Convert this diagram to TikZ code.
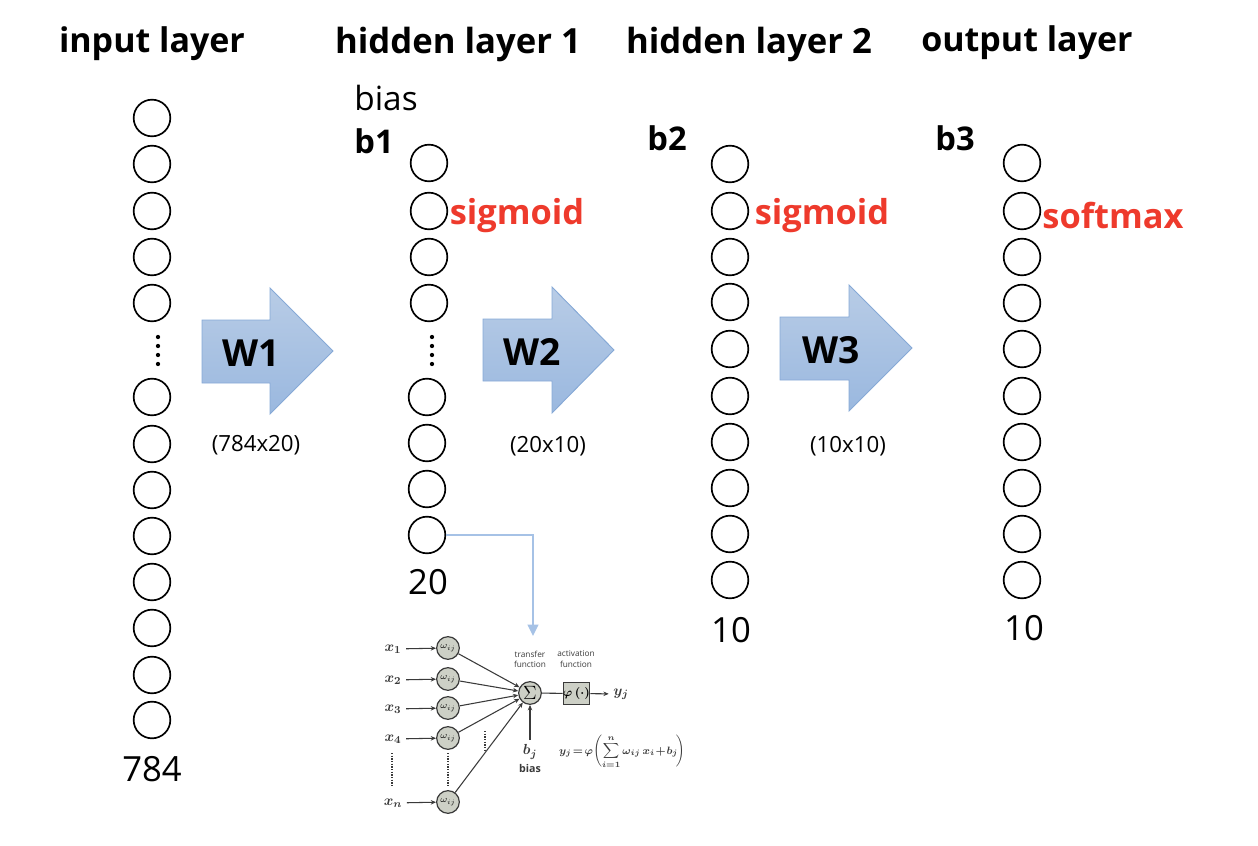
\documentclass[tikz,border=0pt]{standalone}
\usepackage{fontspec}
\usepackage{amsmath}
\setmainfont{Open Sans}
\usetikzlibrary{arrows.meta,calc}
\definecolor{arrowtop}{HTML}{B8CCE6}
\definecolor{arrowbot}{HTML}{9AB8DF}
\definecolor{arrowedge}{HTML}{86A9D6}
\definecolor{linkblue}{HTML}{A6C2E6}
\definecolor{redtxt}{HTML}{EE3A2C}
\definecolor{cellfill}{HTML}{CDD0C6}
\definecolor{inkgray}{HTML}{3A3A3A}
\tikzset{
  x=0.75pt,y=-0.75pt,
  neuron/.style={circle,draw=black,line width=1.25pt,minimum size=27.5pt,inner sep=0pt},
  head/.style={font=\fontsize{25.5}{28}\selectfont\bfseries,anchor=center},
  headwide/.style={font=\fontsize{26}{28}\selectfont\bfseries,anchor=center},
  bname/.style={font=\fontsize{24.5}{28}\selectfont\bfseries,anchor=center},
  wname/.style={font=\fontsize{28}{32}\selectfont\bfseries,anchor=center},
  act/.style={font=\fontsize{25.8}{28}\selectfont\bfseries,text=redtxt,anchor=center},
  count/.style={font=\fontsize{26}{30}\selectfont,anchor=center},
  dims/.style={font=\fontsize{16.7}{20}\selectfont,anchor=center},
  dotcol/.style={circle,fill=black,inner sep=0pt,minimum size=3.2pt},
  block/.style={draw=arrowedge,line width=0.7pt,top color=arrowtop,bottom color=arrowbot},
  link/.style={draw=linkblue,line width=1.2pt,-{Triangle[length=8.5pt,width=8pt]}},
  wcell/.style={circle,draw=inkgray,line width=0.9pt,fill=cellfill,minimum size=17pt,inner sep=0pt,font=\fontsize{7}{7}\selectfont},
  wire/.style={draw=inkgray,line width=0.8pt,-{Stealth[length=4pt,width=3.4pt]}},
  sym/.style={font=\fontsize{11}{11}\selectfont\boldmath,anchor=center,text=inkgray},
  tiny/.style={font=\fontsize{6.2}{7.6}\selectfont,anchor=center,text=inkgray},
  vdots/.style={draw=inkgray,line width=1pt,dash pattern=on 1pt off 1pt}
}
\begin{document}
\begin{tikzpicture}
\useasboundingbox (0,0) rectangle (1258,846);
% headers
\node[head] (h0) at (152,44) {input layer};
\node[headwide] (h1) at (458,44) {hidden layer 1};
\node[headwide] (h2) at (749,44) {hidden layer 2};
\node[head] (h3) at (1027,43) {output layer};
\node[font=\fontsize{25}{28}\selectfont] (bias) at (386,98) {bias};
\node[bname] (b1) at (374,141) {b1};
\node[bname] (b2) at (667,138) {b2};
\node[bname] (b3) at (955,138) {b3};
% input column
\foreach \n/\y in {1/118,2/164,3/211,4/257,5/303,6/397,7/444,8/490,9/536,10/582,11/628,12/675,13/720}
  \node[neuron] (a\n) at (152,\y) {};
\foreach \n/\y in {1/337,2/346,3/355,4/364} \node[dotcol] (ad\n) at (158,\y) {};
% hidden 1
\foreach \n/\y in {1/163,2/211,3/257,4/303} \node[neuron] (c\n) at (429,\y) {};
\foreach \n/\y in {5/397,6/443,7/489,8/535} \node[neuron] (c\n) at (427,\y) {};
\foreach \n/\y in {1/337,2/346,3/355,4/364} \node[dotcol] (cd\n) at (432,\y) {};
% hidden 2
\foreach \n/\y in {1/164,2/211,3/257,4/302,5/349,6/396,7/442,8/488,9/534,10/580}
  \node[neuron] (d\n) at (730,\y) {};
% output
\foreach \n/\y in {1/163,2/211,3/257,4/303,5/349,6/396,7/442,8/488,9/534,10/580}
  \node[neuron] (e\n) at (1022,\y) {};
% counts
\node[count] (n0) at (152,769) {784};
\node[count] (n1) at (428,582) {20};
\node[count] (n2) at (731,630) {10};
\node[count] (n3) at (1024,628) {10};
% activations
\node[act] (s1) at (517,216) {sigmoid};
\node[act] (s2) at (822,216) {sigmoid};
\node[act] (s3) at (1113,216) {softmax};
% block arrows
\path[block] (202,320) -- (270,320) -- (270,288) -- (333,351) -- (270,414) -- (270,383) -- (202,383) -- cycle;
\path[block] (483,319) -- (552,319) -- (552,287) -- (614,350) -- (552,413) -- (552,381) -- (483,381) -- cycle;
\path[block] (780,317) -- (849,317) -- (849,285) -- (912,348) -- (849,411) -- (849,380) -- (780,380) -- cycle;
\node[wname] (w1) at (251,353) {W1};
\node[wname] (w2) at (532,352) {W2};
\node[wname] (w3) at (831,350) {W3};
\node[dims] (m1) at (256,445) {(784x20)};
\node[dims] (m2) at (548,446) {(20x10)};
\node[dims] (m3) at (848,446) {(10x10)};
% inset
\node[wcell] (w1c) at (448,648) {\(\omega_{ij}\)};
\node[wcell] (w2c) at (448,679) {\(\omega_{ij}\)};
\node[wcell] (w3c) at (448,708) {\(\omega_{ij}\)};
\node[wcell] (w4c) at (448,738) {\(\omega_{ij}\)};
\node[wcell] (wnc) at (448,802) {\(\omega_{ij}\)};
\node[sym] (x1) at (393,649) {\(x_1\)};
\node[sym] (x2) at (393,680) {\(x_2\)};
\node[sym] (x3) at (393,709) {\(x_3\)};
\node[sym] (x4) at (393,739) {\(x_4\)};
\node[sym] (xn) at (393,803) {\(x_n\)};
\node[circle,draw=inkgray,line width=0.9pt,fill=cellfill,minimum size=17pt,inner sep=0pt,font=\fontsize{15}{15}\selectfont] (sum) at (530,693) {\(\Sigma\)};
\node[draw=inkgray,line width=0.9pt,fill=cellfill,minimum width=20pt,minimum height=17pt,inner sep=0pt,font=\fontsize{9}{9}\selectfont\boldmath] (phi) at (576.5,693.5) {\(\varphi\,(\cdot)\)};
\node[sym] (yj) at (621,694) {\(y_j\)};
\node[sym] (bj) at (530,752) {\(b_j\)};
\node[font=\fontsize{8}{8}\selectfont\bfseries,text=inkgray] (bb) at (530,768) {bias};
\node[tiny,align=center] (tf) at (530,659) {transfer\\function};
\node[tiny,align=center] (af) at (576,659) {activation\\function};
\node[font=\fontsize{8.2}{10}\selectfont\boldmath,text=inkgray,anchor=center,inner sep=0pt] (eq) at (622,752) {\(\displaystyle y_j\!=\!\varphi\!\left(\sum_{i=1}^{n}\omega_{ij}\,x_i\!+\!b_j\!\right)\)};
\foreach \v in {1,2,3,4,n} { \draw[wire] (x\v) -- (w\v c); }
\foreach \v in {1,2,3,4,n} { \draw[wire] (w\v c) -- (sum); }
\draw[wire,-] (sum) -- (phi);
\draw[wire] (phi) -- (yj);
\draw[wire] (bj) -- (sum);
\coordinate (dx1) at (392,753); \coordinate (dx2) at (392,787);
\coordinate (dw1) at (448,753); \coordinate (dw2) at (448,787);
\coordinate (dm1) at (485,731); \coordinate (dm2) at (485,750);
\draw[vdots] (dx1) -- (dx2);
\draw[vdots] (dw1) -- (dw2);
\draw[vdots] (dm1) -- (dm2);
% connector from last neuron to inset
\coordinate (inset) at (533,636);
\draw[link] (c8.east) -| (inset);
\end{tikzpicture}
\end{document}
